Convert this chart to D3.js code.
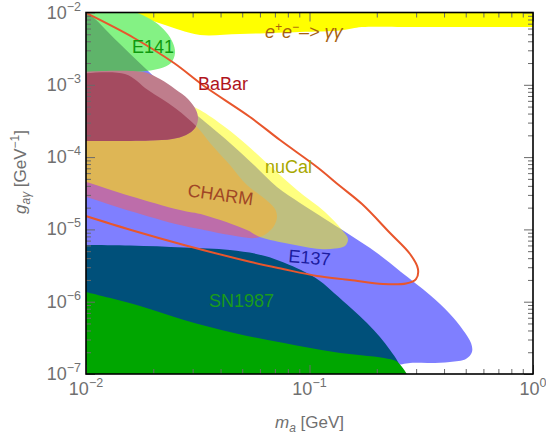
<!DOCTYPE html>
<html><head><meta charset="utf-8">
<script src="https://cdn.jsdelivr.net/npm/d3@7"></script>
<style>body{margin:0;background:#fff}svg{display:block}</style>
</head><body><svg id="c" width="546" height="441"></svg>
<script>
// ---- data (m_a in GeV, g_agamma in GeV^-1); each region = visible boundary + closing corners outside the frame ----
const eeBand = [[0.01449,0.01154],[0.01542,9.84e-3],[0.01656,9.23e-3],[0.01932,7.87e-3],[0.02257,6.71e-3],[0.02634,5.73e-3],[0.03238,4.89e-3],[0.04887,5.04e-3],[0.09069,5.37e-3],[0.1369,5.64e-3],[0.155,6.01e-3],[0.1717,6.3e-3],[0.3122,6.3e-3],[1.075,6.3e-3]];
const eeBandClose = [[1.075,0.0127],[0.01449,0.0127]];
const e137 = [[0.0094,0.0123],[0.01064,8.95e-3],[0.0139,3.91e-3],[0.01876,1.6e-3],[0.0258,6.36e-4],[0.03588,2.69e-4],[0.04406,1.57e-4],[0.05706,7.53e-5],[0.07153,3.86e-5],[0.09069,2.32e-5],[0.1173,1.393e-5],[0.1472,8.92e-6],[0.2005,4.72e-6],[0.2567,2.58e-6],[0.3459,1.24e-6],[0.4251,6.76e-7],[0.4861,4.07e-7],[0.528,2.68e-7],[0.5332,2.01e-7],[0.501,1.61e-7],[0.4251,1.47e-7],[0.3459,1.42e-7],[0.2817,1.42e-7],[0.2489,1.33e-7]];
const e137Close = [[0.2413,6e-8],[0.00893,6e-8]];
const charm = [[0.00921,1.41e-3],[0.01494,1.41e-3],[0.01894,8.47e-4],[0.02502,4.78e-4],[0.0314,2.61e-4],[0.03588,1.57e-4],[0.04406,7.78e-5],[0.05248,4.11e-5],[0.06324,2.63e-5],[0.07008,1.915e-5],[0.07153,1.484e-5],[0.06937,1.114e-5],[0.06387,8.64e-6],[0.05706,7.6e-6],[0.04406,8.37e-6],[0.03374,9.82e-6],[0.02634,1.15e-5],[0.01574,1.8e-5],[0.01,2.81e-5],[0.00921,2.99e-5]];
const nucal = [[0.00921,1.41e-3],[0.01419,1.389e-3],[0.01781,1.282e-3],[0.02257,7.95e-4],[0.02773,5.6e-4],[0.03238,4.48e-4],[0.04185,2.61e-4],[0.05248,1.47e-4],[0.06655,7.53e-5],[0.0879,3.51e-5],[0.1173,1.74e-5],[0.1398,9.81e-6],[0.1487,7.36e-6],[0.1441,5.89e-6],[0.13,5.44e-6],[0.1114,5.36e-6],[0.08178,6.28e-6],[0.06005,7.85e-6],[0.05248,9.82e-6],[0.03374,1.582e-5],[0.02634,1.85e-5],[0.01574,2.9e-5],[0.01,4.53e-5],[0.00921,4.82e-5]];
const e141 = [[0.00921,0.0127],[0.01449,0.01154],[0.01745,9.53e-3],[0.02037,7.4e-3],[0.0228,5.37e-3],[0.0245,3.79e-3],[0.02502,2.75e-3],[0.024,2.0e-3],[0.02143,1.68e-3],[0.01745,1.53e-3],[0.0128,1.5e-3],[0.00921,1.5e-3]];
const babar = [[0.00921,1.5e-3],[0.01799,1.5e-3],[0.02143,1.2e-3],[0.02502,8.75e-4],[0.0286,6.36e-4],[0.03106,4.48e-4],[0.0317,3.37e-4],[0.03074,2.53e-4],[0.02802,2.02e-4],[0.02427,1.78e-4],[0.01932,1.696e-4],[0.0128,1.67e-4],[0.00921,1.67e-4]];
const snTeal = [[0.00921,6.09e-6],[0.01574,5.99e-6],[0.02744,5.62e-6],[0.04406,5.19e-6],[0.06324,4.29e-6],[0.09162,2.74e-6],[0.1114,1.93e-6],[0.1287,1.32e-6],[0.155,7.93e-7],[0.1808,5.07e-7],[0.2067,3.25e-7],[0.2292,2.15e-7],[0.2489,1.47e-7],[0.2649,9.37e-8]];
const snTealClose = [[0.2649,6e-8],[0.00921,6e-8]];
const snGreen = [[0.00921,1.45e-6],[0.01,1.36e-6],[0.01745,8.72e-7],[0.02744,5.58e-7],[0.04595,3.69e-7],[0.07691,2.68e-7],[0.1287,2.01e-7],[0.2154,1.66e-7],[0.2438,1.51e-7],[0.2594,1.252e-7],[0.276,9.4e-8]];
const snGreenClose = [[0.276,6e-8],[0.00921,6e-8]];
const projection = [[0.01,9.84e-3],[0.0164,4.44e-3],[0.02475,2.0e-3],[0.03374,9.62e-4],[0.05417,3.59e-4],[0.07379,1.72e-4],[0.108,7.3e-5],[0.1369,3.98e-5],[0.1718,2.24e-5],[0.2292,8.92e-6],[0.2817,4.57e-6],[0.3058,2.83e-6],[0.2995,2.06e-6],[0.2703,1.79e-6],[0.2133,1.76e-6],[0.1518,2.0e-6],[0.108,2.27e-6],[0.07609,2.83e-6],[0.0547,3.54e-6],[0.02744,6.1e-6],[0.0159,9.82e-6],[0.0094,1.62e-5]];
const regionLabels = [
  {text:"E141", m:0.01607, g:2.75e-3, color:"#0f9a0f", rot:0},
  {text:"BaBar", m:0.0317, g:8.47e-4, color:"#b0141c", rot:0},
  {text:"nuCal", m:0.0632, g:6.03e-5, color:"#a8a800", rot:0},
  {text:"CHARM", m:0.0283, g:2.88e-5, color:"#a04626", rot:8},
  {text:"E137", m:0.0802, g:3.54e-6, color:"#1c1ca0", rot:5},
  {text:"SN1987", m:0.0355, g:8.45e-7, color:"#1a9a1a", rot:0}
];
const eeLabel = {m:0.0632, g:4.44e-3};
const xMajor = [0.01, 0.1, 1], xExp = ["\u22122", "\u22121", "0"];
const yMajor = [1e-7, 1e-6, 1e-5, 1e-4, 1e-3, 1e-2], yExp = ["\u22127","\u22126","\u22125","\u22124","\u22123","\u22122"];

// ---- chart ----
const L=86, R=533, T=12.5, B=374;
const svg = d3.select("#c");
const x = d3.scaleLog().domain([0.01,1]).range([L,R]);
const y = d3.scaleLog().domain([1e-7,1e-2]).range([B,T]);
const defs = svg.append("defs");
defs.append("clipPath").attr("id","pc").append("rect")
  .attr("x",L).attr("y",T).attr("width",R-L).attr("height",B-T);
const plot = svg.append("g").attr("clip-path","url(#pc)");
const lineC = d3.line().x(d=>x(d[0])).y(d=>y(d[1])).curve(d3.curveCatmullRom.alpha(0.5));
function regionPath(pts, close){ return lineC(pts) + (close||[]).map(p=>`L${x(p[0])},${y(p[1])}`).join("") + "Z"; }
function shape(d, fill, op){ return plot.append("path").attr("d",d).attr("fill",fill).attr("fill-opacity",op); }
function overlap(d, clipId, fill){ plot.append("g").attr("clip-path",`url(#${clipId})`).append("path").attr("d",d).attr("fill",fill); }

const dE137 = regionPath(e137, e137Close), dCharm = regionPath(charm), dE141 = regionPath(e141), dBabar = regionPath(babar);
defs.append("clipPath").attr("id","c137").append("path").attr("d",dE137);
defs.append("clipPath").attr("id","cCharm").append("path").attr("d",dCharm);
shape(regionPath(eeBand, eeBandClose), "#ffff00", 1);
shape(dE137, "#0000ff", 0.5);
shape(dCharm, "#fc5c55", 0.5);
shape(regionPath(nucal), "#ffff00", 0.5);
shape(dE141, "#84f284", 1);
overlap(dE141, "c137", "#5fb46a");
shape(dBabar, "#bf7d8c", 1);
overlap(dBabar, "cCharm", "#a44b60");
shape(regionPath(snTeal, snTealClose), "#00507a", 1);
shape(regionPath(snGreen, snGreenClose), "#00a600", 1);
plot.append("path").attr("d",lineC(projection)).attr("fill","none").attr("stroke","#e8562c").attr("stroke-width",2);

const font = "'Liberation Sans', Arial, sans-serif";
regionLabels.forEach(l=>{
  const px=x(l.m), py=y(l.g);
  svg.append("text").attr("x",px).attr("y",py).attr("transform",`rotate(${l.rot},${px},${py})`)
    .attr("font-family",font).attr("font-size",18).attr("fill",l.color).text(l.text);
});
{
  const t = svg.append("text").attr("x",x(eeLabel.m)).attr("y",y(eeLabel.g)).attr("font-family",font)
    .attr("font-size",18).attr("font-style","italic").attr("fill","#a8620e");
  t.append("tspan").text("e");
  t.append("tspan").attr("dy",-7).attr("font-size",12).text("+");
  t.append("tspan").attr("dy",7).text("e");
  t.append("tspan").attr("dy",-7).attr("font-size",12).text("\u2212");
  t.append("tspan").attr("dy",7).text("\u2013> \u03b3\u03b3");
}

// axes (ticks inward)
function minors(lo, hi){ const a=[]; for(let e=lo;e<hi;e++) for(let k=2;k<10;k++) a.push(k*Math.pow(10,e)); return a; }
const xMin = minors(-2,0), yMin = minors(-7,-2);
const tickCol = "#6a6a6a";
function styleAxis(g){ g.select(".domain").remove(); g.selectAll(".tick line").attr("stroke",tickCol).attr("stroke-width",1); g.selectAll("text").remove(); }
svg.append("g").attr("transform",`translate(0,${B})`).call(d3.axisBottom(x).tickValues(xMin).tickSize(-5)).call(styleAxis);
svg.append("g").attr("transform",`translate(0,${B})`).call(d3.axisBottom(x).tickValues(xMajor).tickSize(-9)).call(styleAxis);
svg.append("g").attr("transform",`translate(0,${T})`).call(d3.axisTop(x).tickValues(xMin).tickSize(-5)).call(styleAxis);
svg.append("g").attr("transform",`translate(0,${T})`).call(d3.axisTop(x).tickValues(xMajor).tickSize(-9)).call(styleAxis);
svg.append("g").attr("transform",`translate(${L},0)`).call(d3.axisLeft(y).tickValues(yMin).tickSize(-5)).call(styleAxis);
svg.append("g").attr("transform",`translate(${L},0)`).call(d3.axisLeft(y).tickValues(yMajor).tickSize(-9)).call(styleAxis);
svg.append("g").attr("transform",`translate(${R},0)`).call(d3.axisRight(y).tickValues(yMin).tickSize(-5)).call(styleAxis);
svg.append("g").attr("transform",`translate(${R},0)`).call(d3.axisRight(y).tickValues(yMajor).tickSize(-9)).call(styleAxis);
svg.append("rect").attr("x",L).attr("y",T).attr("width",R-L).attr("height",B-T).attr("fill","none").attr("stroke","#000").attr("stroke-width",1.6);

const labCol = "#707070";
xMajor.forEach((v,i)=>{
  const t = svg.append("text").attr("x",x(v)).attr("y",B+21).attr("text-anchor","middle")
    .attr("font-family",font).attr("font-size",18).attr("fill",labCol);
  t.append("tspan").text("10");
  t.append("tspan").attr("dy",-8).attr("font-size",12.5).text(xExp[i]);
});
yMajor.forEach((v,i)=>{
  const t = svg.append("text").attr("x",L-5).attr("y",y(v)+6).attr("text-anchor","end")
    .attr("font-family",font).attr("font-size",18).attr("fill",labCol);
  t.append("tspan").text("10");
  t.append("tspan").attr("dy",-8).attr("font-size",12.5).text(yExp[i]);
});
{
  const t = svg.append("text").attr("x",(L+R)/2).attr("y",428).attr("text-anchor","middle")
    .attr("font-family",font).attr("font-size",17).attr("fill",labCol);
  t.append("tspan").attr("font-style","italic").text("m");
  t.append("tspan").attr("dy",4).attr("font-size",12).attr("font-style","italic").text("a");
  t.append("tspan").attr("dy",-4).text(" [GeV]");
}
{
  const cx=26, cy=172;
  const t = svg.append("text").attr("x",cx).attr("y",cy).attr("text-anchor","middle")
    .attr("transform",`rotate(-90,${cx},${cy})`)
    .attr("font-family",font).attr("font-size",17).attr("fill",labCol);
  t.append("tspan").attr("font-style","italic").text("g");
  t.append("tspan").attr("dy",4).attr("font-size",12).attr("font-style","italic").text("a\u03b3");
  t.append("tspan").attr("dy",-4).text(" [GeV");
  t.append("tspan").attr("dy",-7).attr("font-size",12).text("\u22121");
  t.append("tspan").attr("dy",7).text("]");
}
</script></body></html>
